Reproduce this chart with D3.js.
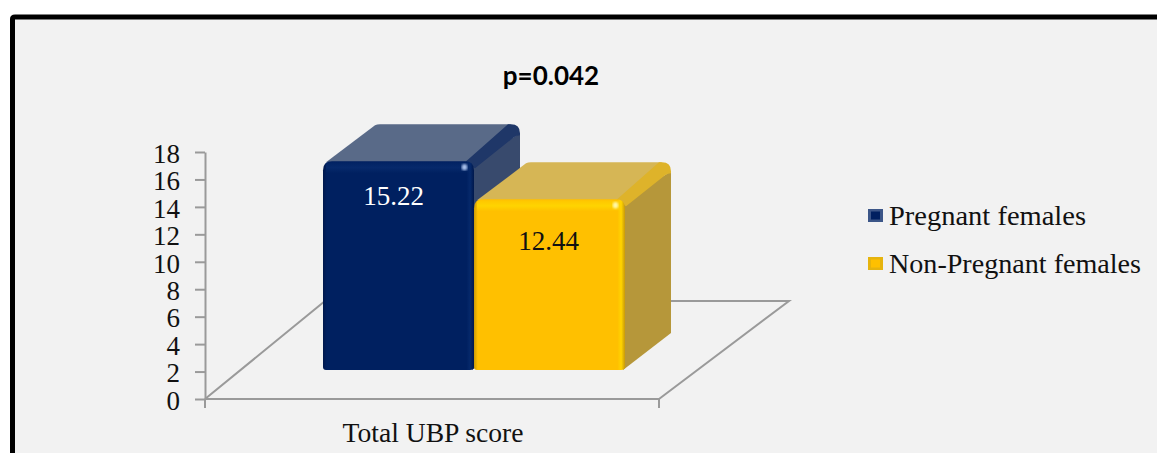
<!DOCTYPE html>
<html><head><meta charset="utf-8">
<script src="https://cdn.jsdelivr.net/npm/d3@7"></script>
<style>html,body{margin:0;padding:0;background:#fff;overflow:hidden}svg{display:block}text{font-family:"Liberation Serif",serif;fill:#111}</style>
</head><body><svg id="c" width="1157" height="453"></svg>
<script>
const categories=["Total UBP score"];
const seriesNames=["Pregnant females","Non-Pregnant females"];
const seriesValues=[15.22,12.44];
const valueLabels=["15.22","12.44"];
const yTicks=[0,2,4,6,8,10,12,14,16,18];
const titleText="p=0.042";
const palette=[{front:"#002060",hi:"#06296b",top:"#596a88",edge:"#1f3768",side:"#384a6d",spark:"#a9c0ea",rim:"#00184c"},
               {front:"#ffc000",hi:"#ffd400",top:"#d6b655",edge:"#deb32a",side:"#b6973a",spark:"#fff8a8",rim:"#c99a08"}];
const W=1157,H=453;
const svg=d3.select("#c");
const defs=svg.append("defs");
defs.append("filter").attr("id","soft").append("feGaussianBlur").attr("stdDeviation",0.8);
palette.forEach((p,i)=>{
  const g=defs.append("linearGradient").attr("id","fh"+i);
  [[0,p.rim],[0.025,p.front],[0.95,p.front],[0.975,p.hi],[1,p.rim]]
   .forEach(s=>g.append("stop").attr("offset",s[0]).attr("stop-color",s[1]));
  const v=defs.append("linearGradient").attr("id","fv"+i).attr("x2",0).attr("y2",1);
  v.append("stop").attr("offset",0).attr("stop-color",p.hi).attr("stop-opacity",0.3);
  v.append("stop").attr("offset",0.5).attr("stop-color",p.hi).attr("stop-opacity",1);
  v.append("stop").attr("offset",1).attr("stop-color",p.hi).attr("stop-opacity",0);
});
// panel and frame
svg.append("rect").attr("x",12).attr("y",17).attr("width",W).attr("height",H).attr("fill","#f2f2f2");
svg.append("path").attr("d",`M12.5 ${H+5}V19Q12.5 17 15 17H${W+5}`).attr("fill","none").attr("stroke","#000").attr("stroke-width",5);

const y=d3.scaleLinear().domain([0,18]).range([399,152]);
const x=d3.scaleBand().domain(categories).range([205,659]);
const depthX=46,depthY=37,lift=29;
const floorX=120,floorY=98;
const grey="#9a9a9a";
// floor
const f=svg.append("g").attr("fill","none").attr("stroke",grey).attr("stroke-width",2);
const x0=x.range()[0],x1=x.range()[1],y0=y(0);
f.append("path").attr("d",`M${x0} ${y0}L${x0+floorX} ${y0-floorY}H${x1+130}L${x1} ${y0}`);
// y axis
const ax=svg.append("g").attr("transform",`translate(${x0},0)`).call(d3.axisLeft(y).tickValues(yTicks).tickSize(10).tickSizeOuter(0).tickPadding(15));
ax.selectAll("path,line").attr("stroke",grey).attr("stroke-width",2);
ax.selectAll("text").style("font-size","27px").attr("dy","0.38em").attr("fill","#111");
// x axis
const bx=svg.append("g").attr("transform",`translate(0,${y0})`);
bx.append("line").attr("x1",x0).attr("x2",x1).attr("stroke",grey).attr("stroke-width",2);
[x0,x1].forEach(v=>bx.append("line").attr("x1",v).attr("x2",v).attr("y2",9).attr("stroke",grey).attr("stroke-width",2));
svg.append("text").attr("x",x(categories[0])+x.bandwidth()/2+1).attr("y",442).attr("text-anchor","middle")
  .attr("textLength",181).attr("lengthAdjust","spacingAndGlyphs").style("font-size","27px").text(categories[0]);

// bars
const s=d3.scaleBand().domain(seriesNames).range([323,625]);
const labelDx=[-5,-1],labelDy=[44,51];
seriesNames.forEach((n,i)=>{
  const p=palette[i],a=s(n),w=s.bandwidth(),b=a+w,t=y(seriesValues[i])-lift,bot=y(0)-lift;
  const g=svg.append("g");
  const bx2=b+depthX, ty=t-depthY;
  // side
  g.append("path").attr("d",`M${b-2} ${t+2}L${bx2} ${ty+9}V${bot-depthY}L${b-2} ${bot}Z`).attr("fill",p.side);
  // top
  g.append("path").attr("d",`M${a+3} ${t+1}L${a+depthX+6} ${ty+1}Q${a+depthX+8} ${ty} ${a+depthX+11} ${ty}H${bx2-9}L${b} ${t+4}Z`).attr("fill",p.top);
  // rounded edge between top and side
  g.append("path").attr("d",`M${b-9} ${t+1}L${bx2-12} ${ty}H${bx2-9}Q${bx2} ${ty} ${bx2} ${ty+9}V${ty+11}Q${bx2-3} ${ty+11} ${bx2-6} ${ty+13}L${b+1} ${t+7}Z`).attr("fill",p.edge);
  // front
  g.append("path").attr("d",`M${a} ${t+9}Q${a} ${t} ${a+9} ${t}H${b-9}Q${b} ${t} ${b} ${t+9}V${bot-3}Q${b} ${bot} ${b-4} ${bot}H${a+3}Q${a} ${bot} ${a} ${bot-3}Z`).attr("fill",`url(#fh${i})`);
  g.append("rect").attr("x",a+3).attr("y",t+1).attr("width",w-7).attr("height",11).attr("fill",`url(#fv${i})`);
  g.append("ellipse").attr("cx",b-9.5).attr("cy",t+6).attr("rx",2.8).attr("ry",3.2).attr("fill",p.spark).attr("filter","url(#soft)");
  svg.append("text").attr("x",a+w/2+labelDx[i]).attr("y",t+labelDy[i]).attr("text-anchor","middle").style("font-size","27px")
    .style("fill",i?"#111":"#fff").text(valueLabels[i]);
});

// title
svg.append("text").attr("x",551).attr("y",85).attr("text-anchor","middle").style("font-family","Lato,sans-serif").style("font-size","26px").style("font-weight","700").style("fill","#000").text(titleText);

// legend
const legY=d3.scalePoint().domain(seriesNames).range([215.5,263.5]);
seriesNames.forEach((n,i)=>{
  const p=palette[i],cy=legY(n),g=svg.append("g");
  g.append("rect").attr("x",868).attr("y",cy-6.5).attr("width",15).attr("height",13).attr("fill",i?"#e6b40e":"#3c5688");
  g.append("rect").attr("x",871).attr("y",cy-4).attr("width",9).attr("height",8).attr("fill",p.front);
  svg.append("text").attr("x",889).attr("y",cy+9).attr("textLength",i?252:197).attr("lengthAdjust","spacingAndGlyphs").style("font-size","27px").text(n);
});
</script></body></html>
